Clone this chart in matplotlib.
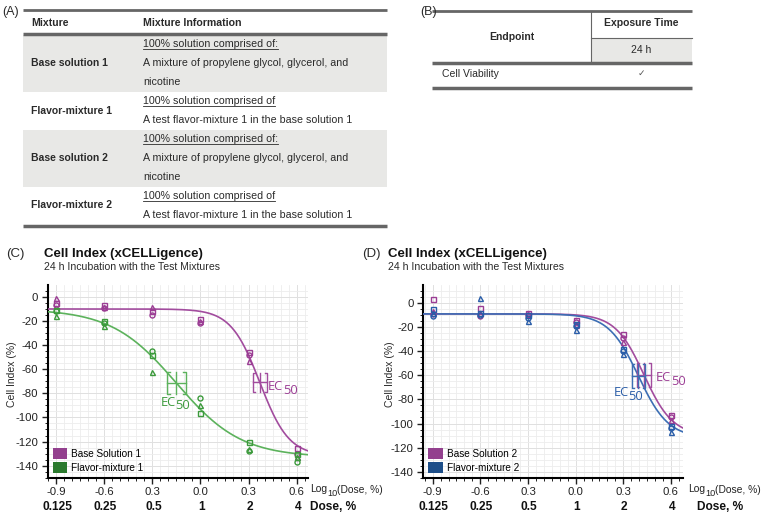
import numpy as np
import matplotlib
matplotlib.use('Agg')
import matplotlib.pyplot as plt
from matplotlib.patches import Rectangle, Patch

plt.rcParams['font.family'] = ['Liberation Sans', 'DejaVu Sans']
plt.rcParams['axes.unicode_minus'] = False

# ---------------- data ----------------
mixture_header = ["Mixture", "Mixture Information"]
mixture_names = ["Base solution 1", "Flavor-mixture 1", "Base solution 2", "Flavor-mixture 2"]
mixture_info = [
    ["100% solution comprised of:", "A mixture of propylene glycol, glycerol, and", "nicotine"],
    ["100% solution comprised of", "A test flavor-mixture 1 in the base solution 1"],
    ["100% solution comprised of:", "A mixture of propylene glycol, glycerol, and", "nicotine"],
    ["100% solution comprised of", "A test flavor-mixture 1 in the base solution 1"],
]
endpoint_header = "Endpoint"
exposure_header = "Exposure Time"
exposure_times = ["24 h"]
endpoints = ["Cell Viability"]
endpoint_marks = ["\u2713"]

log_dose = [-0.9, -0.6, -0.3, 0.0, 0.3, 0.6]
log_dose_labels = ["-0.9", "-0.6", "0.3", "0.0", "0.3", "0.6"]
dose_labels = ["0.125", "0.25", "0.5", "1", "2", "4"]
y_ticks = [0, -20, -40, -60, -80, -100, -120, -140]

# Panel C replicates (Cell Index, %)
c_base_sq = [-5, -7, -12, -18, -46, -125]
c_base_ci = [-7, -9, -15, -22, -48, -130]
c_base_tri = [-1, -8, -8, -20, -53, -133]
c_flav_sq = [-11, -20, -48, -96, -120, -130]
c_flav_ci = [-12, -22, -45, -84, -128, -137]
c_flav_tri = [-16, -24, -62, -90, -126, -133]
# Panel D replicates
d_base_sq = [3, -4, -8, -14, -26, -93]
d_base_ci = [-9, -11, -10, -16, -29, -95]
d_base_tri = [-7, -8, -9, -18, -32, -97]
d_flav_sq = [-5, -8, -10, -17, -38, -102]
d_flav_ci = [-11, -10, -12, -19, -40, -104]
d_flav_tri = [-8, 4, -15, -22, -42, -107]

# 4-parameter logistic fits: top, bottom, logEC50, hill
c_base_fit = [-10, -132, 0.37, 4.8]
c_flav_fit = [-10, -133, -0.15, 2.15]
d_base_fit = [-9, -110, 0.43, 4.8]
d_flav_fit = [-9, -112, 0.395, 4.6]
# EC50 confidence half-widths: (log dose, response)
c_base_ci50 = [0.042, 8]
c_flav_ci50 = [0.06, 9]
d_base_ci50 = [0.042, 10]
d_flav_ci50 = [0.042, 10]

series_labels_c = ["Base Solution 1", "Flavor-mixture 1"]
series_labels_d = ["Base Solution 2", "Flavor-mixture 2"]

# ---------------- style ----------------
PURPLE_L = '#a24c9e'; PURPLE_M = '#9b3d94'; PURPLE_B = '#93408e'
GREEN_L = '#5cb25c'; GREEN_M = '#3c9a3c'; GREEN_B = '#2b7a2e'
BLUE_L = '#3c6eb4'; BLUE_M = '#2a5da8'; BLUE_B = '#1d4e89'
TXT = '#2a2a2a'; RULE = '#666666'; SHADE = '#e8e8e6'

W, H = 765, 517
fig = plt.figure(figsize=(W / 100, H / 100), dpi=100)
ov = fig.add_axes([0, 0, 1, 1], zorder=-1)
ov.set_xlim(0, W); ov.set_ylim(H, 0); ov.axis('off')

# ---------------- Table A ----------------
ov.text(2, 12, "(A)", fontsize=9, color=TXT, va='center', ha='left')
ax0, ax1 = 23, 387
ov.plot([ax0, ax1], [10, 10], color=RULE, lw=2, solid_capstyle='butt')
ov.text(31, 23, mixture_header[0], fontsize=7.6, fontweight='bold', color=TXT, va='center')
ov.text(143, 23, mixture_header[1], fontsize=7.6, fontweight='bold', color=TXT, va='center')
ov.plot([ax0, ax1], [33.5, 33.5], color=RULE, lw=2.5, solid_capstyle='butt')
underline_texts = []
top = 34.5
for i, (name, lines) in enumerate(zip(mixture_names, mixture_info)):
    h = 19 * len(lines)
    if i % 2 == 0:
        ov.add_patch(Rectangle((ax0, top), ax1 - ax0, h, color=SHADE, lw=0))
    ov.text(31, top + h / 2, name, fontsize=7.5, fontweight='bold', color=TXT, va='center')
    for j, ln in enumerate(lines):
        t = ov.text(143, top + 9.5 + 19 * j, ln, fontsize=7.7, color=TXT, va='center')
        if j == 0:
            underline_texts.append(t)
    top += h
ov.plot([ax0, ax1], [top + 1.5, top + 1.5], color=RULE, lw=2.5, solid_capstyle='butt')

# ---------------- Table B ----------------
ov.text(420, 12, "(B)", fontsize=9, color=TXT, va='center', ha='left')
bx0, bx1, bxm = 432, 692, 591
ov.add_patch(Rectangle((bxm, 37.5), bx1 - bxm, 24.5, color=SHADE, lw=0))
ov.plot([bx0, bx1], [11, 11], color=RULE, lw=2, solid_capstyle='butt')
ov.plot([bxm, bxm], [11, 62], color=RULE, lw=0.8)
ov.plot([bxm, bx1], [37.5, 37.5], color=RULE, lw=0.8)
ov.plot([bx0, bx1], [62.5, 62.5], color=RULE, lw=2.5, solid_capstyle='butt')
ov.plot([bx0, bx1], [87.5, 87.5], color=RULE, lw=2.5, solid_capstyle='butt')
ov.text((bx0 + bxm) / 2, 37, endpoint_header, fontsize=7.5, fontweight='bold', color=TXT, ha='center', va='center')
ov.text((bxm + bx1) / 2, 23, exposure_header, fontsize=7.5, fontweight='bold', color=TXT, ha='center', va='center')
ov.text((bxm + bx1) / 2, 50, exposure_times[0], fontsize=7.5, color=TXT, ha='center', va='center')
ov.text(442, 74, endpoints[0], fontsize=7.5, color=TXT, ha='left', va='center')
ov.text((bxm + bx1) / 2, 73, endpoint_marks[0], fontsize=6.5, color='#555555', ha='center', va='center',
        family=['DejaVu Sans'])

# ---------------- plot panels ----------------
def logistic(x, p):
    top_, bot_, lec, hill = p
    return top_ + (bot_ - top_) / (1 + 10 ** (hill * (lec - x)))

def crosshair(ax, p, ci, color):
    x = p[2]; y = (p[0] + p[1]) / 2
    dx, dy = ci
    s = dx * 0.3
    kw = dict(color=color, lw=1.0, zorder=4)
    ax.plot([x - dx, x + dx], [y, y], **kw)
    ax.plot([x, x], [y - dy, y + dy], **kw)
    ax.plot([x - dx + s, x - dx, x - dx, x - dx + s], [y + dy, y + dy, y - dy, y - dy], **kw)
    ax.plot([x + dx - s, x + dx, x + dx, x + dx - s], [y + dy, y + dy, y - dy, y - dy], **kw)
    return x, y

def ec50_label(ax, x, y, off, color):
    t = ax.annotate("EC", xy=(x, y), xytext=off, textcoords='offset pixels',
                    fontsize=9.3, color=color, family=['Open Sans', 'DejaVu Sans'],
                    ha='left', va='center', zorder=5)
    ax.annotate("50", xy=(1, 0.2), xycoords=t, xytext=(0, 0), textcoords='offset pixels',
                fontsize=9.3, color=color, family=['Open Sans', 'DejaVu Sans'],
                ha='left', va='center', zorder=5)

def panel(rect, xlim, ylim, reps, fits, cis, cols, labels, ec_offsets, logx_off, dose_off):
    ax = fig.add_axes(rect)
    ax.set_xlim(*xlim); ax.set_ylim(*ylim)
    ax.set_axisbelow(True)
    ax.set_xticks(log_dose)
    ax.set_xticklabels(log_dose_labels)
    ax.set_yticks(y_ticks)
    ax.set_yticks(np.arange(ylim[0] - ylim[0] % 5, ylim[1], 5), minor=True)
    ax.set_xticks(np.arange(-0.95, 0.68, 0.05), minor=True)
    ax.grid(which='minor', color='#ededed', lw=0.6)
    ax.grid(which='major', color='#e0e0e0', lw=0.7)
    for s in ['top', 'right']:
        ax.spines[s].set_visible(False)
    for s in ['left', 'bottom']:
        ax.spines[s].set_linewidth(1.5)
    ax.tick_params(which='major', direction='out', length=4, width=1, labelsize=8.2, pad=3, colors='#222222')
    ax.tick_params(which='minor', direction='out', length=2, width=0.7, colors='#222222')
    xs = np.linspace(xlim[0] + 0.002, xlim[1], 300)
    for (sq, ci, tri), p, c50, (lc, mc, bc) in zip(reps, fits, cis, cols):
        ax.plot(xs, logistic(xs, p), color=lc, lw=1.2, zorder=3)
        mk = dict(ls='none', mfc='none', mec=mc, mew=1.0, ms=3.6, zorder=4)
        ax.plot(log_dose, sq, marker='s', **mk)
        ax.plot(log_dose, ci, marker='o', **mk)
        ax.plot(log_dose, tri, marker='^', **mk)
    for p, c50, (lc, mc, bc), off in zip(fits, cis, cols, ec_offsets):
        x, y = crosshair(ax, p, c50, lc)
        ec50_label(ax, x, y, off, mc)
    handles = [Patch(facecolor=c[2], edgecolor='none') for c in cols]
    ax.legend(handles, labels, loc='lower left', bbox_to_anchor=(0.019, 0.025), frameon=False,
              fontsize=7.2, handlelength=1.45, handleheight=1.25, handletextpad=0.4,
              labelspacing=0.32, borderpad=0, borderaxespad=0)
    for x, lab in zip(log_dose, dose_labels):
        ax.annotate(lab, xy=(x, 0), xycoords=('data', 'axes fraction'), xytext=(1, -29),
                    textcoords='offset pixels', ha='center', va='center', fontsize=8.6,
                    fontweight='bold', color='#111111')
    # "Log10(Dose, %)" with a sizeable subscript
    t1 = ax.annotate("Log", xy=(1, 0), xycoords='axes fraction', xytext=(logx_off, -11.5),
                     textcoords='offset pixels', ha='left', va='center', fontsize=7.4, color='#222222')
    t2 = ax.annotate("10", xy=(1, 0.1), xycoords=t1, xytext=(0, 0), textcoords='offset pixels',
                     ha='left', va='center', fontsize=6.6, color='#222222')
    ax.annotate("(Dose, %)", xy=(1, 0.5), xycoords=t2, xytext=(0, 3), textcoords='offset pixels',
                ha='left', va='center', fontsize=7.4, color='#222222')
    ax.annotate("Dose, %", xy=(1, 0), xycoords='axes fraction', xytext=(dose_off, -29),
                textcoords='offset pixels', ha='left', va='center', fontsize=8.6,
                fontweight='bold', color='#111111')
    return ax

axC = panel([48 / W, (H - 477.7) / H, 260 / W, 192.7 / H], (-0.948, 0.670), (-149.7, 9.9),
            [(c_base_sq, c_base_ci, c_base_tri), (c_flav_sq, c_flav_ci, c_flav_tri)],
            [c_base_fit, c_flav_fit], [c_base_ci50, c_flav_ci50],
            [(PURPLE_L, PURPLE_M, PURPLE_B), (GREEN_L, GREEN_M, GREEN_B)],
            series_labels_c, [(8, -4.5), (-16, -19)], 2, 2)
axD = panel([423.3 / W, (H - 477.7) / H, 259.7 / W, 192.7 / H], (-0.959, 0.676), (-143.3, 15.0),
            [(d_base_sq, d_base_ci, d_base_tri), (d_flav_sq, d_flav_ci, d_flav_tri)],
            [d_base_fit, d_flav_fit], [d_base_ci50, d_flav_ci50],
            [(PURPLE_L, PURPLE_M, PURPLE_B), (BLUE_L, BLUE_M, BLUE_B)],
            series_labels_d, [(12, -2.5), (-25, -17)], 5, 14)

# titles, panel labels, y-labels
for px, lx, ylx in [(6, 44, 12), (362, 388, 390)]:
    lab = "(C)" if px < 100 else "(D)"
    ov.text(px, 254, lab, fontsize=9.5, color=TXT, va='center', ha='left')
    ov.text(lx, 254, "Cell Index (xCELLigence)", fontsize=9.5, fontweight='bold', color='#111111', va='center')
    ov.text(lx, 267.5, "24 h Incubation with the Test Mixtures", fontsize=7.6, color=TXT, va='center')
    ov.text(ylx, 374, "Cell Index (%)", fontsize=7.5, color=TXT, va='center', ha='center', rotation=90)

# underlines
fig.canvas.draw()
r = fig.canvas.get_renderer()
inv = ov.transData.inverted()
for t in underline_texts:
    bb = t.get_window_extent(r)
    (x0, y0), (x1, y1) = inv.transform([(bb.x0, bb.y0), (bb.x1, bb.y1)])
    ov.plot([x0, x1], [y0 - 0.5, y0 - 0.5], color=TXT, lw=0.6)

fig.savefig('out.png', dpi=100)
